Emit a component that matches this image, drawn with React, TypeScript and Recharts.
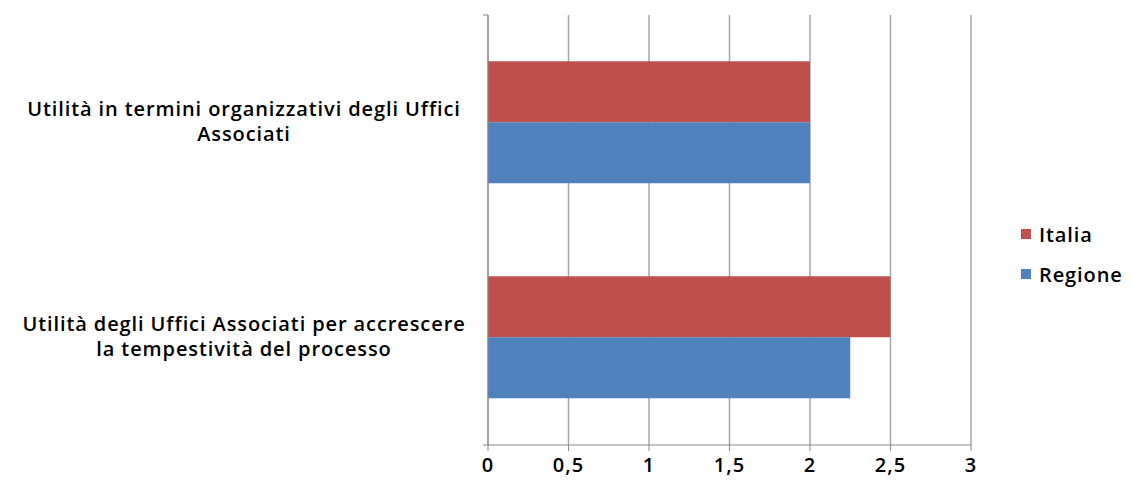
import { BarChart, Bar, XAxis, YAxis, CartesianGrid, Legend } from 'recharts'

const categories = [
  'Utilità in termini organizzativi degli Uffici\nAssociati',
  'Utilità degli Uffici Associati per accrescere\nla tempestività del processo',
]
const italia = [2, 2.5]
const regione = [2, 2.25]
const xTicks = [0, 0.5, 1, 1.5, 2, 2.5, 3]

const data = categories.map((c, i) => ({ name: c, Italia: italia[i], Regione: regione[i] }))

const FONT = '"Open Sans", sans-serif'

function CategoryTick(props: any) {
  const { y, payload } = props
  const lines = String(payload.value).split('\n')
  const lh = 25
  const y0 = y - ((lines.length - 1) * lh) / 2 - 2
  return (
    <text x={244} y={y0} textAnchor="middle" dominantBaseline="central"
      fontFamily={FONT} fontSize={20} fontWeight={600} letterSpacing={0.9} fill="#000">
      {lines.map((l, i) => (
        <tspan key={i} x={244} y={y0 + i * lh} dominantBaseline="central">{l}</tspan>
      ))}
    </text>
  )
}

function LegendBox(props: any) {
  const { payload } = props
  return (
    <div style={{ fontFamily: FONT, fontSize: 20, fontWeight: 600, letterSpacing: 0.9, color: '#000' }}>
      {payload.map((p: any) => (
        <div key={p.value} style={{ display: 'flex', alignItems: 'center', height: 40 }}>
          <span style={{ display: 'inline-block', width: 10, height: 10, background: p.color, marginRight: 8 }} />
          {p.value}
        </div>
      ))}
    </div>
  )
}

export default function App() {
  return (
    <div style={{ position: 'absolute', left: 0, top: 0, background: '#fff' }}>
      <BarChart
        width={1132}
        height={495}
        data={data}
        layout="vertical"
        margin={{ top: 15, right: 50, left: 0, bottom: 0 }}
        barCategoryGap="21.5%"
        barGap={0}
      >
        <CartesianGrid horizontal={false} stroke="#a6a6a6" strokeWidth={1.5} />
        <XAxis
          type="number"
          domain={[0, 3]}
          ticks={xTicks}
          interval={0}
          tickFormatter={(v: number) => String(v).replace('.', ',')}
          stroke="#888"
          tickSize={6}
          tick={{ fontFamily: FONT, fontSize: 20, fontWeight: 600, letterSpacing: 1, fill: '#000', dy: 5 }}
          height={50}
        />
        <YAxis
          yAxisId="lab"
          type="category"
          dataKey="name"
          width={470}
          axisLine={false}
          tickLine={false}
          tick={<CategoryTick />}
        />
        <YAxis
          yAxisId="frame"
          type="number"
          domain={[0, 2]}
          ticks={[0, 1, 2]}
          width={18}
          stroke="#888"
          tickSize={5}
          tick={() => <g />}
        />
        <Legend
          layout="vertical"
          align="right"
          verticalAlign="middle"
          content={<LegendBox />}
          wrapperStyle={{ position: 'absolute', left: 1021, top: 214, width: 111 }}
        />
        <Bar yAxisId="lab" dataKey="Italia" fill="#C0504D" isAnimationActive={false} />
        <Bar yAxisId="lab" dataKey="Regione" fill="#4F81BD" isAnimationActive={false} />
      </BarChart>
    </div>
  )
}
